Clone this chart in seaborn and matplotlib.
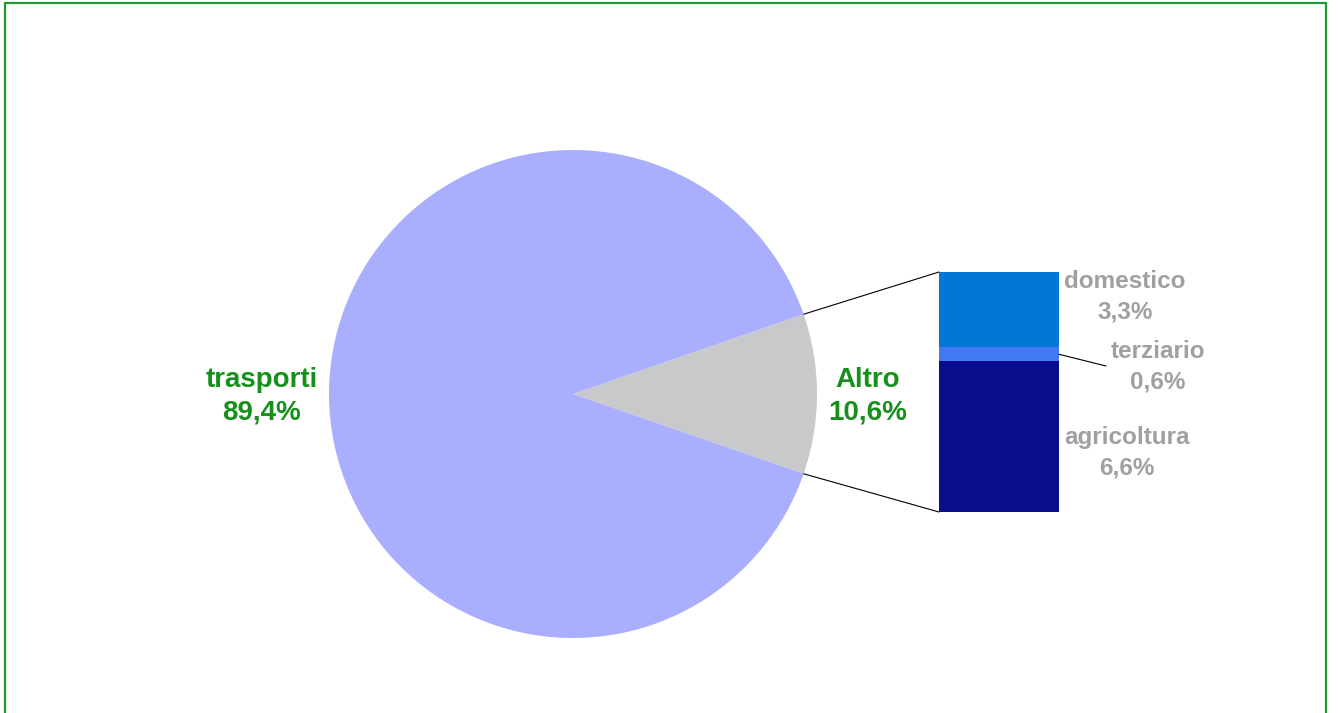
import matplotlib
matplotlib.use("Agg")
import matplotlib.pyplot as plt
from matplotlib.patches import ConnectionPatch, Rectangle
import numpy as np
import seaborn as sns

sns.set_theme(style="white")
plt.rcParams["font.family"] = ["Liberation Sans", "DejaVu Sans"]

# Main pie: share of "Altro" vs "trasporti"
pie_labels = ["Altro", "trasporti"]
pie_values = [10.6, 89.4]
pie_colors = ["#C8C9CB", "#AAAEFF"]

# Breakdown of "Altro" (stacked bar, bottom to top)
bar_labels = ["agricoltura", "terziario", "domestico"]
bar_values = [6.6, 0.6, 3.3]
bar_colors = ["#090C8C", "#4378F5", "#0278D6"]

W, H = 1338, 713
fig = plt.figure(figsize=(W / 100, H / 100), dpi=100)
fig.patch.set_facecolor("white")


def px_axes(x0, y0, x1, y1):
    """Axes from pixel box (top-left origin)."""
    return fig.add_axes([x0 / W, 1 - y1 / H, (x1 - x0) / W, (y1 - y0) / H])


# Frame around the chart (bottom edge runs past the figure)
fig.patches.append(Rectangle((4.5 / W, -0.05), (1325.5 - 4.5) / W, 1 - 3.5 / H + 0.05,
                             transform=fig.transFigure, fill=False,
                             edgecolor="#1E9A32", linewidth=1.6, zorder=0))

green = "#15901A"
grey = "#A0A0A0"

# ---- Pie ----
ax_pie = px_axes(329, 150, 817, 638)
half = pie_values[0] / 100 * 360 / 2
wedges, _ = ax_pie.pie(pie_values, colors=pie_colors, startangle=-half,
                       counterclock=True, radius=1,
                       wedgeprops=dict(linewidth=0))
ax_pie.set_xlim(-1, 1)
ax_pie.set_ylim(-1, 1)
ax_pie.set_aspect("auto")
ax_pie.axis("off")

fmt = lambda v: f"{v:.1f}%".replace(".", ",")
ax_pie.text(-1.277, -0.01, f"{pie_labels[1]}\n{fmt(pie_values[1])}", ha="center",
            va="center", color=green, fontsize=20, fontweight="bold",
            linespacing=1.3)
ax_pie.text(1.209, -0.01, f"{pie_labels[0]}\n{fmt(pie_values[0])}", ha="center",
            va="center", color=green, fontsize=20, fontweight="bold",
            linespacing=1.3)

# ---- Stacked bar ----
ax_bar = px_axes(939, 272, 1059, 512)
bottom = 0.0
for lab, val, col in zip(bar_labels, bar_values, bar_colors):
    ax_bar.bar(0, val, width=1.0, bottom=bottom, color=col, linewidth=0)
    bottom += val
total = bottom
ax_bar.set_xlim(-0.5, 0.5)
ax_bar.set_ylim(0, total)
ax_bar.axis("off")

# Connector lines from the Altro wedge edges to the bar corners
theta = np.deg2rad(half)
for sign, ybar in ((1, total), (-1, 0)):
    con = ConnectionPatch(xyA=(np.cos(theta), sign * np.sin(theta)), coordsA=ax_pie.transData,
                          xyB=(-0.5, ybar), coordsB=ax_bar.transData,
                          color="black", linewidth=0.8)
    fig.add_artist(con)

# Bar segment labels
lab_kw = dict(ha="center", va="center", color=grey, fontsize=17.5,
              fontweight="bold", linespacing=1.4)
fig.text(1125 / W, 1 - 297 / H, f"{bar_labels[2]}\n{fmt(bar_values[2])}", **lab_kw)
fig.text(1158 / W, 1 - 367 / H, f"{bar_labels[1]}\n{fmt(bar_values[1])}", **lab_kw)
fig.text(1127 / W, 1 - 453 / H, f"{bar_labels[0]}\n{fmt(bar_values[0])}", **lab_kw)

# Leader line for the thin "terziario" segment
terz_mid = bar_values[0] + bar_values[1] / 2
leader = ConnectionPatch(xyA=(0.5, terz_mid), coordsA=ax_bar.transData,
                         xyB=(1106 / W, 1 - 366 / H), coordsB=fig.transFigure,
                         color="black", linewidth=0.8)
fig.add_artist(leader)

fig.savefig("out.png", dpi=100, facecolor="white")
